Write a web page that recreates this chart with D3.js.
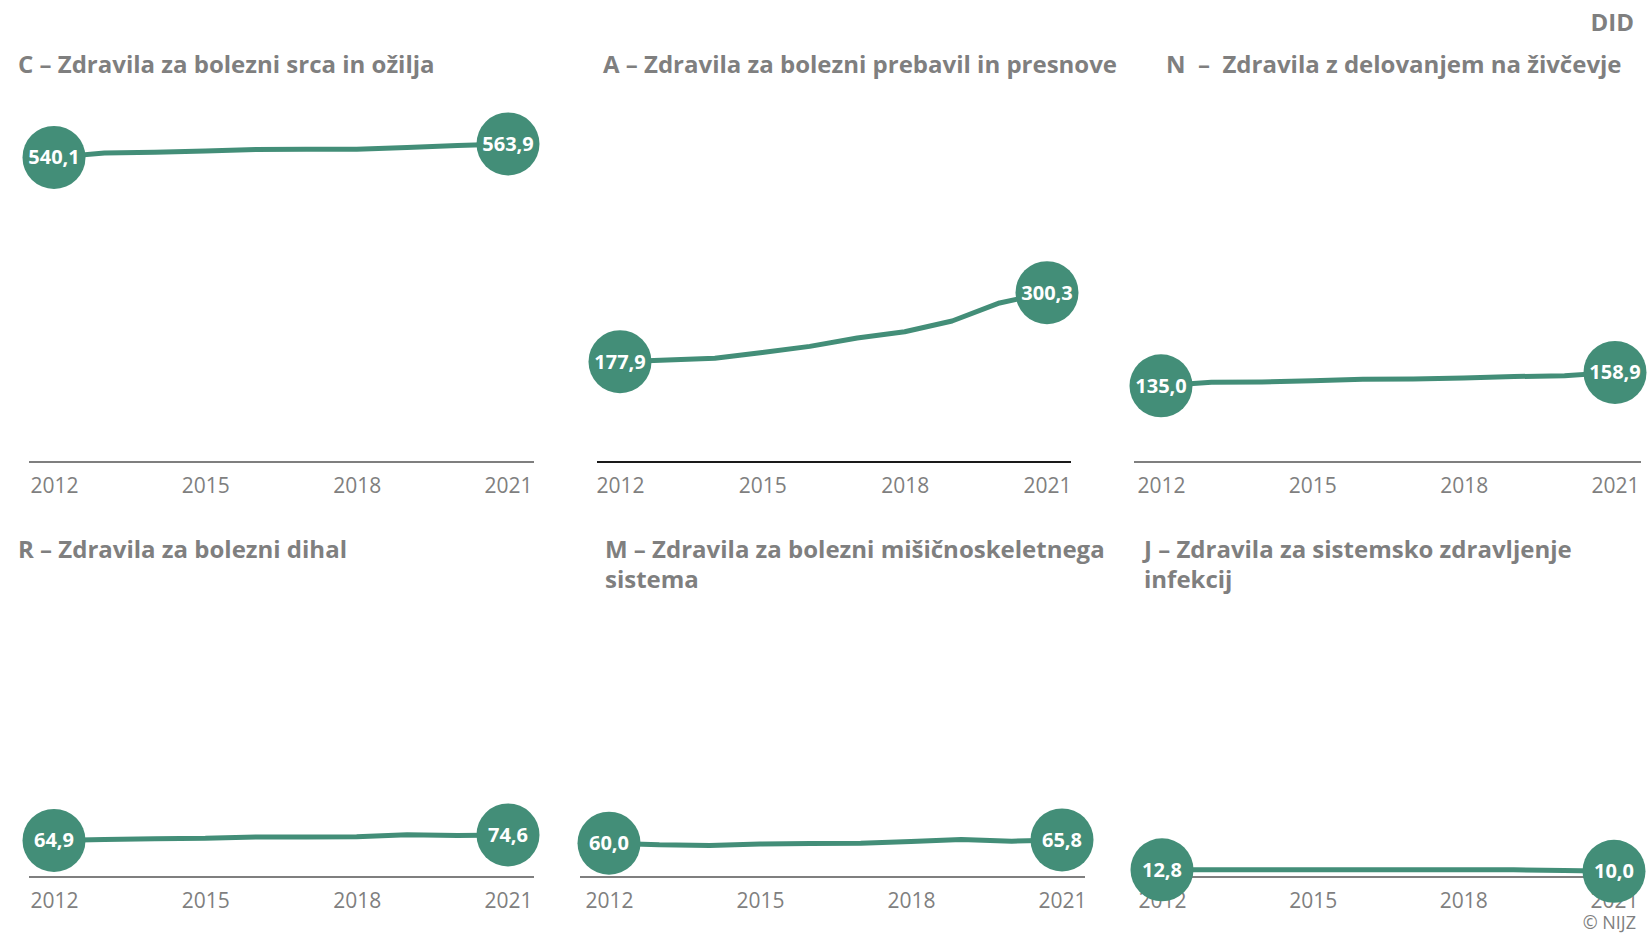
<!DOCTYPE html>
<html>
<head>
<meta charset="utf-8">
<script src="https://cdn.jsdelivr.net/npm/d3@7/dist/d3.min.js"></script>
<style>
    body { margin: 0; background: #ffffff; }
    svg text { font-family: "Open Sans", sans-serif; }
</style>
</head>
<body>
<div id="chart"></div>
<script>
const years = [2012, 2013, 2014, 2015, 2016, 2017, 2018, 2019, 2020, 2021];
const tickYears = [2012, 2015, 2018, 2021];

const titles = [
    ["C – Zdravila za bolezni srca in ožilja"],
    ["A – Zdravila za bolezni prebavil in presnove"],
    ["N  –  Zdravila z delovanjem na živčevje"],
    ["R – Zdravila za bolezni dihal"],
    ["M – Zdravila za bolezni mišičnoskeletnega", "sistema"],
    ["J – Zdravila za sistemsko zdravljenje", "infekcij"]
];

const valuesC = [540.1, 548.0, 549.0, 551.5, 554.0, 554.5, 554.5, 557.5, 561.0, 563.9];
const valuesA = [177.9, 181.0, 184.0, 194.0, 205.0, 220.0, 231.0, 250.0, 282.0, 300.3];
const valuesN = [135.0, 141.5, 142.0, 144.0, 146.5, 147.0, 149.0, 151.5, 153.0, 158.9];
const valuesR = [64.9, 66.5, 68.0, 68.5, 71.0, 71.0, 71.5, 75.0, 73.5, 74.6];
const valuesM = [60.0, 57.0, 56.0, 58.5, 59.5, 60.0, 63.0, 66.5, 63.5, 65.8];
const valuesJ = [12.8, 12.9, 12.9, 12.8, 12.8, 12.9, 12.8, 12.8, 11.5, 10.0];

const series = [valuesC, valuesA, valuesN, valuesR, valuesM, valuesJ];

const unit = "DID";
const source = "© NIJZ";

// where each small chart sits on the page
const panels = [
    { row: 0, titleX: 18,   axis: [29, 534],   range: [54, 508],   axisColor: "#7f7f7f" },
    { row: 0, titleX: 603,  axis: [597, 1071], range: [620, 1047], axisColor: "#1a1a1a" },
    { row: 0, titleX: 1166, axis: [1134, 1641], range: [1161, 1615], axisColor: "#7f7f7f" },
    { row: 1, titleX: 18,   axis: [29, 534],   range: [54, 508],   axisColor: "#7f7f7f" },
    { row: 1, titleX: 605,  axis: [580, 1085], range: [609, 1062], axisColor: "#7f7f7f" },
    { row: 1, titleX: 1144, axis: [1134, 1641], range: [1162, 1614], axisColor: "#7f7f7f" }
];
const rows = [
    { titleY: 73, base: 462 },
    { titleY: 558, base: 877 }
];

const width = 1647;
const height = 934;
const green = "#438e78";
const grey = "#7f7f7f";

const fmt = d3.formatLocale({ decimal: ",", thousands: ".", grouping: [3], currency: ["", ""] }).format(".1f");

const svg = d3.select("#chart")
    .append("svg")
    .attr("width", width)
    .attr("height", height);

svg.append("text")
    .attr("x", 1634)
    .attr("y", 31)
    .attr("text-anchor", "end")
    .attr("font-size", "24px")
    .attr("font-weight", 700)
    .attr("fill", grey)
    .text(unit);

svg.append("text")
    .attr("x", 1636)
    .attr("y", 929)
    .attr("text-anchor", "end")
    .attr("font-size", "18px")
    .attr("fill", grey)
    .text(source);

panels.forEach(function(p, i){
    const base = rows[p.row].base;
    const values = series[i];
    const data = years.map((y, j) => ({ year: y, value: values[j] }));

    const xScale = d3.scaleLinear()
        .domain([years[0], years[years.length - 1]])
        .range(p.range);

    const yScale = d3.scaleLinear()
        .domain([0, 600])
        .range([base, base - 338.4]);

    const g = svg.append("g");

    const title = g.append("text")
        .attr("x", p.titleX)
        .attr("y", rows[p.row].titleY)
        .attr("font-size", "24px")
        .attr("font-weight", 700)
        .attr("fill", grey)
        .style("white-space", "pre");

    titles[i].forEach(function(line, k){
        title.append("tspan")
            .attr("x", p.titleX)
            .attr("dy", k === 0 ? 0 : 30)
            .text(line);
    });

    // baseline
    g.append("line")
        .attr("x1", p.axis[0])
        .attr("x2", p.axis[1])
        .attr("y1", base)
        .attr("y2", base)
        .attr("stroke", p.axisColor)
        .attr("stroke-width", 2);

    const xAxis = g.append("g")
        .attr("transform", "translate(0," + base + ")")
        .call(d3.axisBottom(xScale)
            .tickValues(tickYears)
            .tickFormat(d3.format("d"))
            .tickSize(0)
            .tickPadding(0));

    xAxis.select(".domain").remove();
    xAxis.selectAll("text")
        .attr("y", 31)
        .attr("dy", 0)
        .attr("font-family", "Open Sans, sans-serif")
        .attr("font-size", "21px")
        .attr("fill", grey);

    g.append("path")
        .datum(data)
        .attr("fill", "none")
        .attr("stroke", green)
        .attr("stroke-width", 5)
        .attr("stroke-linejoin", "round")
        .attr("d", d3.line()
            .x(d => xScale(d.year))
            .y(d => yScale(d.value)));

    const ends = [data[0], data[data.length - 1]];

    g.selectAll(".dot")
        .data(ends)
        .enter()
        .append("circle")
        .attr("cx", d => xScale(d.year))
        .attr("cy", d => yScale(d.value))
        .attr("r", 31.5)
        .attr("fill", green);

    g.selectAll(".lbl")
        .data(ends)
        .enter()
        .append("text")
        .attr("x", d => xScale(d.year))
        .attr("y", d => yScale(d.value))
        .attr("dy", "0.35em")
        .attr("text-anchor", "middle")
        .attr("font-size", "20px")
        .attr("font-weight", 700)
        .attr("fill", "#ffffff")
        .text(d => fmt(d.value));
});
</script>
</body>
</html>
